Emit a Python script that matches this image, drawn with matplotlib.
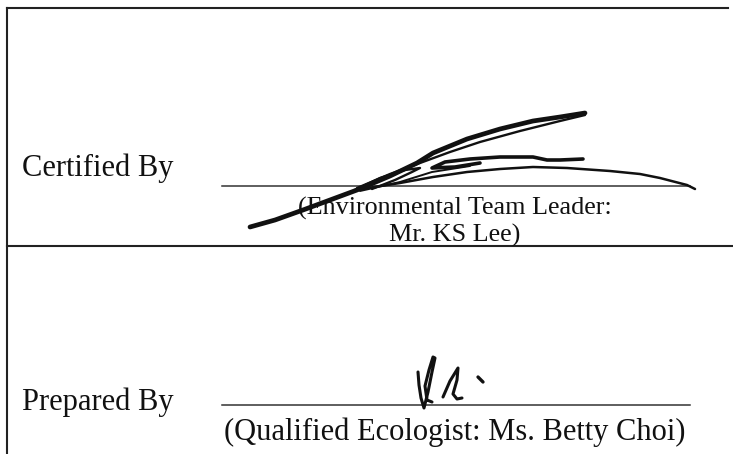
import matplotlib.pyplot as plt

# page geometry in pixel units (y grows downward)
W, H = 733, 454

# table rules
top_rule = (7, 728, 8)
mid_rule = (7, 733, 246)
left_rule = (7, 8, 454)
sign_lines = [(222, 690, 186), (222, 690, 405)]

labels = ["Certified By", "Prepared By"]
label_y = [168, 402]
captions = ["(Environmental Team Leader:", "Mr. KS Lee)", "(Qualified Ecologist: Ms. Betty Choi)"]
caption_y = [208, 235, 432]
caption_size = [18.8, 18.8, 22]

# signature strokes
sig1 = [
    ([250, 275, 303, 330, 357, 390, 417, 433, 467, 500, 533, 560, 585],
     [227, 220, 210, 200, 190, 176, 163, 153, 139, 129, 121, 117, 113], 3.4),
    ([357, 390, 420, 450, 480, 520, 560, 585],
     [188, 174, 163, 152, 142, 131, 121, 115], 1.7),
    ([355, 380, 405, 420, 412, 395, 372],
     [190, 178, 170, 168, 172, 180, 189], 1.7),
    ([480, 455, 432, 445, 470, 500, 533, 547, 560, 583],
     [163, 167, 168, 162, 159, 157, 157, 160, 160, 159], 2.6),
    ([355, 400, 433, 467, 500, 533, 567, 610, 640, 660, 687, 695],
     [190, 183, 177, 172, 169, 167, 168, 171, 174, 178, 185, 189], 1.8),
    ([360, 400, 432, 470], [191, 182, 172, 166], 1.4),
]
sig2 = [
    ([418, 419, 421, 424, 428, 432, 435, 433, 429, 425, 427, 432],
     [372, 385, 398, 408, 392, 372, 358, 357, 370, 386, 400, 402], 2.2),
    ([443, 450, 458, 457, 453, 457, 462],
     [397, 381, 368, 380, 394, 399, 398], 2.2),
    ([478, 481, 483], [377, 380, 382], 2.4),
]

fig = plt.figure(figsize=(W / 100, H / 100), dpi=100)
ax = fig.add_axes([0, 0, 1, 1])
ax.set_xlim(0, W)
ax.set_ylim(H, 0)
ax.axis("off")

ax.plot(top_rule[:2], [top_rule[2]] * 2, color="#222222", lw=1.5)
ax.plot(mid_rule[:2], [mid_rule[2]] * 2, color="#222222", lw=1.5)
ax.plot([left_rule[0]] * 2, left_rule[1:], color="#222222", lw=1.5)
for x0, x1, y in sign_lines:
    ax.plot([x0, x1], [y, y], color="#333333", lw=1.1)

font = "Liberation Serif"
for txt, y in zip(labels, label_y):
    ax.text(22, y, txt, fontsize=22, family=font, va="center", ha="left", color="#111111")
for txt, y, s in zip(captions, caption_y, caption_size):
    ax.text(455, y, txt, fontsize=s, family=font, va="center", ha="center", color="#111111")

for xs, ys, w in sig1 + sig2:
    ax.plot(xs, ys, color="#111111", lw=w, solid_capstyle="round", solid_joinstyle="round")

fig.savefig("out.png", dpi=100)
